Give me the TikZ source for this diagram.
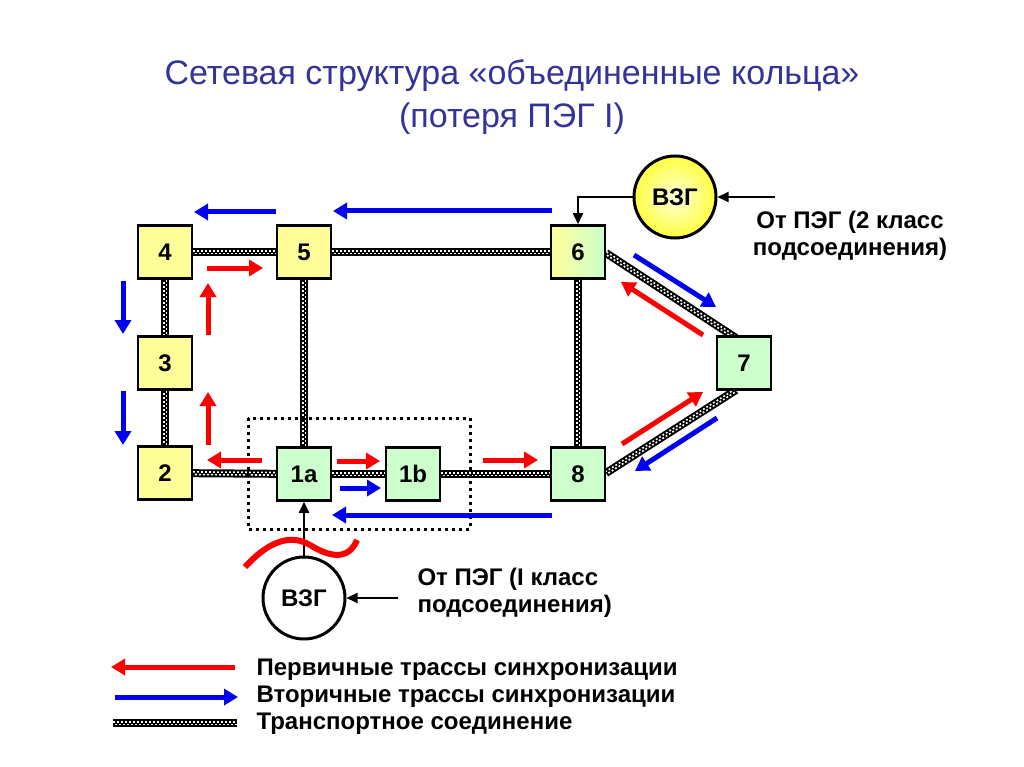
\documentclass[tikz,border=0pt]{standalone}
\usepackage{fontspec}
\setmainfont{Liberation Sans}
\usetikzlibrary{arrows.meta,calc,shadings}
\definecolor{titleblue}{HTML}{333399}
\definecolor{boxyellow}{HTML}{FFFF99}
\definecolor{boxgreen}{HTML}{CCFFCC}
\definecolor{arrred}{HTML}{FF0000}
\definecolor{arrblue}{HTML}{0000EE}
\newcommand\tlink[2]{%
  \draw[line width=8pt] (#1) -- (#2);
  \draw[white,line width=1.6pt,dash pattern=on 1.8pt off 2.2pt]
    ($(#1)!1.3pt!90:(#2)$) -- ($(#2)!1.3pt!-90:(#1)$);
  \draw[white,line width=1.6pt,dash pattern=on 1.8pt off 2.2pt,dash phase=2pt]
    ($(#1)!-1.3pt!90:(#2)$) -- ($(#2)!-1.3pt!-90:(#1)$);
}
\tikzset{
  nbox/.style={draw=black,line width=2.5pt,minimum width=54pt,minimum height=53pt,inner sep=0pt,
    font=\bfseries\fontsize{24}{28}\selectfont},
  ybox/.style={nbox,fill=boxyellow},
  gbox/.style={nbox,fill=boxgreen},
  vzg/.style={circle,draw=black,line width=3pt,minimum size=82pt,inner sep=0pt,
    font=\bfseries\fontsize{24}{28}\selectfont},
  redarr/.style={arrred,line width=5pt,-{Triangle[length=14pt,width=16pt]}},
  bluearr/.style={arrblue,line width=5pt,-{Triangle[length=14pt,width=16pt]}},
  thinarr/.style={black,line width=1.8pt,-{Triangle[length=11pt,width=10pt]}},
  lbl/.style={font=\bfseries\fontsize{24}{27}\selectfont},
  leglbl/.style={font=\bfseries\fontsize{24}{28}\selectfont},
  dotbox/.style={draw=black,line width=3pt,dash pattern=on 3pt off 4pt},
}
\begin{document}
\begin{tikzpicture}[x=1pt,y=-1pt]
\useasboundingbox (0,0) rectangle (1024,767);
% title
\node[titleblue,font=\fontsize{34}{40}\selectfont] (title1) at (512,76) {Сетевая структура «объединенные кольца»};
\node[titleblue,font=\fontsize{34}{40}\selectfont] (title2) at (512,119) {(потеря ПЭГ I)};
% coordinates for nodes
\coordinate (p4) at (165,252);
\coordinate (p5) at (304,252);
\coordinate (p6) at (578,252);
\coordinate (p3) at (165,363);
\coordinate (p2) at (165,473);
\coordinate (p1a) at (304,474);
\coordinate (p1b) at (413,474);
\coordinate (p8) at (578,474);
\coordinate (p7) at (744,363);
\coordinate (c67) at (736,338);
\coordinate (c87) at (736,390);
\coordinate (c6e) at (606,253);
\coordinate (c8e) at (606,473);
% transport links
\tlink{p4}{p5}
\tlink{p5}{p6}
\tlink{p4}{p3}
\tlink{p3}{p2}
\tlink{p2}{p1a}
\tlink{p1a}{p1b}
\tlink{p1b}{p8}
\tlink{p5}{p1a}
\tlink{p6}{p8}
\tlink{c6e}{c67}
\tlink{c8e}{c87}
% dotted box
\draw[dotbox] (248,418) rectangle (470,529);
% nodes
\node[ybox] (n4) at (p4) {4};
\node[ybox] (n5) at (p5) {5};
\node[nbox,left color=boxyellow,right color=boxgreen] (n6) at (p6) {6};
\node[ybox] (n3) at (p3) {3};
\node[ybox] (n2) at (p2) {2};
\node[gbox] (n1a) at (p1a) {1a};
\node[gbox] (n1b) at (p1b) {1b};
\node[gbox] (n8) at (p8) {8};
\node[gbox] (n7) at (p7) {7};
% VZG circles
\node[vzg,inner color=yellow!15,outer color=yellow!75] (vzg1) at (675,197) {ВЗГ};
\node[vzg,fill=white] (vzg2) at (304,598) {ВЗГ};
\coordinate (in1) at (775,197);
\coordinate (in2) at (398,598);
\draw[thinarr] (vzg1.west) -| (n6.north);
\draw[thinarr] (in1) -- (vzg1.east);
\draw[thinarr] (vzg2.north) -- (n1a.south);
\draw[thinarr] (in2) -- (vzg2.east);
\node[lbl,align=center] (t1) at (850,236) {От ПЭГ (2 класс\\подсоединения)};
\node[lbl,align=left,anchor=west] (t2) at (414,593) {От ПЭГ (I класс\\подсоединения)};
% red wave
\draw[arrred,line width=6pt] (245,567) .. controls (265,545) and (288,532) .. (310,545)
  .. controls (328,556) and (348,562) .. (357,540);
% blue arrows
\draw[bluearr] (276,212) -- (194,212);
\draw[bluearr] (552,211) -- (333,211);
\draw[bluearr] (123,281) -- (123,334);
\draw[bluearr] (123,391) -- (123,445);
\draw[bluearr] (634,255) -- (716,307);
\draw[bluearr] (717,418) -- (635,471);
\draw[bluearr] (340,488) -- (381,488);
\draw[bluearr] (552,515) -- (332,515);
% red arrows
\draw[redarr] (207,268) -- (263,268);
\draw[redarr] (208,335) -- (208,283);
\draw[redarr] (208,445) -- (208,392);
\draw[redarr] (262,460) -- (207,460);
\draw[redarr] (337,461) -- (380,461);
\draw[redarr] (483,460) -- (538,460);
\draw[redarr] (622,444) -- (703,392);
\draw[redarr] (703,335) -- (621,282);
% legend
\coordinate (lr1) at (235,667);
\coordinate (lr2) at (111,667);
\coordinate (lb1) at (115,697);
\coordinate (lb2) at (238,697);
\coordinate (lt1) at (113,723);
\coordinate (lt2) at (237,723);
\draw[redarr] (lr1) -- (lr2);
\draw[bluearr] (lb1) -- (lb2);
\tlink{lt1}{lt2}
\node[leglbl,anchor=west] (leg1) at (253,670) {Первичные трассы синхронизации};
\node[leglbl,anchor=west] (leg2) at (253,697) {Вторичные трассы синхронизации};
\node[leglbl,anchor=west] (leg3) at (253,724) {Транспортное соединение};
\end{tikzpicture}
\end{document}
